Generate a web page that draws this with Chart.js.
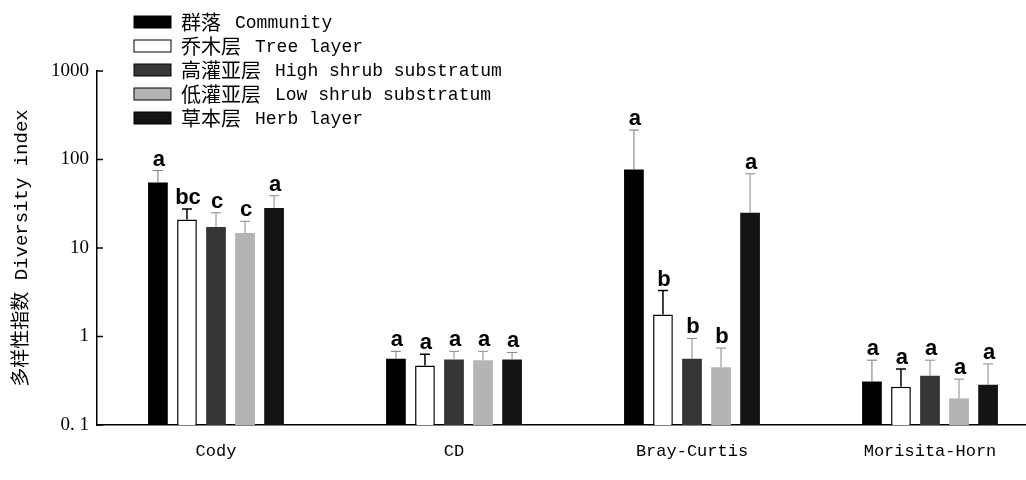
<!DOCTYPE html>
<html>
<head>
<meta charset="utf-8">
<script src="https://cdn.jsdelivr.net/npm/chart.js@4"></script>
<style>
  html, body { margin: 0; padding: 0; background: #fff; }
  #wrap { width: 1026px; height: 480px; position: relative; }
</style>
</head>
<body>
<div id="wrap"><canvas id="diversityChart"></canvas></div>
<script>
// ===============================
// Data
// ===============================
const categories = ['Cody', 'CD', 'Bray-Curtis', 'Morisita-Horn'];
const yTickValues = [0.1, 1, 10, 100, 1000];

const seriesNames = [
  '群落 Community',
  '乔木层 Tree layer',
  '高灌亚层 High shrub substratum',
  '低灌亚层 Low shrub substratum',
  '草本层 Herb layer'
];

const community = [55, 0.56, 77, 0.31];
const treeLayer = [21, 0.47, 1.77, 0.27];
const highShrub = [17.3, 0.55, 0.56, 0.36];
const lowShrub = [14.8, 0.54, 0.45, 0.2];
const herbLayer = [28.4, 0.55, 25, 0.285];

// upper end of error bars
const communityErr = [75, 0.68, 215, 0.54];
const treeLayerErr = [27.5, 0.63, 3.3, 0.43];
const highShrubErr = [25, 0.68, 0.95, 0.54];
const lowShrubErr = [20, 0.68, 0.74, 0.33];
const herbLayerErr = [39, 0.66, 69, 0.49];

// significance letters
const communityLetters = ['a', 'a', 'a', 'a'];
const treeLayerLetters = ['bc', 'a', 'b', 'a'];
const highShrubLetters = ['c', 'a', 'b', 'a'];
const lowShrubLetters = ['c', 'a', 'b', 'a'];
const herbLayerLetters = ['a', 'a', 'a', 'a'];

const fills = ['#000000', '#ffffff', '#363636', '#b4b4b4', '#141414'];
const errColors = ['#777', '#000', '#888', '#888', '#888'];

const values = [community, treeLayer, highShrub, lowShrub, herbLayer];
const errs = [communityErr, treeLayerErr, highShrubErr, lowShrubErr, herbLayerErr];
const letters = [communityLetters, treeLayerLetters, highShrubLetters, lowShrubLetters, herbLayerLetters];

const monoFont = '"Liberation Mono", "Noto Sans CJK SC", monospace';
const cjkFont = '"Noto Sans CJK SC", sans-serif';

// ===============================
// Plugin: wider x axis (the original is cropped on the right)
// ===============================
const widenPlugin = {
  id: 'widen',
  afterLayout(chart) {
    const x = chart.scales.x;
    x.right = x.left + 4 * 238;
    x.width = x.right - x.left;
    x.configure();
    chart.chartArea.right = x.right;
    chart.chartArea.width = x.width;
  }
};

// ===============================
// Plugin: error bars, letters, inward ticks, legend
// ===============================
const extrasPlugin = {
  id: 'extras',
  afterDatasetsDraw(chart) {
    const ctx = chart.ctx;
    const y = chart.scales.y;
    ctx.save();
    values.forEach((vals, i) => {
      const meta = chart.getDatasetMeta(i);
      meta.data.forEach((bar, j) => {
        const yTop = y.getPixelForValue(errs[i][j]);
        ctx.strokeStyle = errColors[i];
        ctx.lineWidth = i === 1 ? 1.5 : 1;
        ctx.beginPath();
        ctx.moveTo(bar.x, bar.y);
        ctx.lineTo(bar.x, yTop);
        ctx.moveTo(bar.x - 5, yTop);
        ctx.lineTo(bar.x + 5, yTop);
        ctx.stroke();

        ctx.fillStyle = '#000';
        ctx.font = 'bold 22px "Liberation Sans", Arial, sans-serif';
        ctx.textAlign = 'center';
        ctx.textBaseline = 'alphabetic';
        ctx.fillText(letters[i][j], bar.x + 1, yTop - 5);
      });
    });

    // inward tick marks on y axis
    const left = chart.chartArea.left;
    ctx.strokeStyle = '#000';
    ctx.lineWidth = 1.5;
    yTickValues.forEach(v => {
      const py = y.getPixelForValue(v);
      ctx.beginPath();
      ctx.moveTo(left, py);
      ctx.lineTo(left + 6, py);
      ctx.stroke();
    });

    // legend
    ctx.textAlign = 'left';
    ctx.textBaseline = 'middle';
    seriesNames.forEach((name, i) => {
      const cy = 22 + i * 24;
      ctx.fillStyle = fills[i];
      ctx.fillRect(134, cy - 6, 37, 12);
      ctx.strokeStyle = '#000';
      ctx.lineWidth = 1;
      ctx.strokeRect(134, cy - 6, 37, 12);

      const cut = name.indexOf(' ');
      const zh = name.slice(0, cut);
      const en = name.slice(cut + 1);
      ctx.fillStyle = '#000';
      ctx.font = '20px ' + cjkFont;
      ctx.fillText(zh, 181, cy);
      const w = ctx.measureText(zh).width;
      ctx.font = '18px ' + monoFont;
      ctx.fillText(en, 181 + w + 14, cy + 1);
    });
    ctx.restore();
  }
};

// ===============================
// Chart: Diversity index
// ===============================
new Chart(document.getElementById('diversityChart'), {
  type: 'bar',
  data: {
    labels: categories,
    datasets: values.map((vals, i) => ({
      label: seriesNames[i],
      data: vals,
      backgroundColor: fills[i],
      borderColor: '#000',
      borderWidth: i === 1 ? 1.5 : 0,
      categoryPercentage: 0.61,
      barPercentage: 0.68
    }))
  },
  options: {
    responsive: true,
    maintainAspectRatio: false,
    animation: false,
    layout: { padding: { top: 71, right: 0, left: 0, bottom: 0 } },
    plugins: {
      legend: { display: false },
      tooltip: { enabled: false }
    },
    scales: {
      x: {
        grid: { display: false, drawTicks: false },
        border: { display: true, color: '#000', width: 1.5 },
        ticks: {
          color: '#000',
          padding: 16,
          font: { family: monoFont, size: 17 }
        },
        afterFit(scale) { scale.height = 55; }
      },
      y: {
        type: 'logarithmic',
        min: 0.1,
        max: 1000,
        grid: { display: false, drawTicks: false },
        border: { display: true, color: '#000', width: 1.5 },
        afterBuildTicks(scale) {
          scale.ticks = yTickValues.map(v => ({ value: v }));
        },
        ticks: {
          color: '#000',
          padding: 8,
          font: { family: '"Liberation Serif", serif', size: 19 },
          callback: v => (v === 0.1 ? '0. 1' : String(v))
        },
        title: {
          display: true,
          text: '多样性指数 Diversity index',
          color: '#000',
          padding: { top: 11, bottom: 4 },
          font: { family: monoFont, size: 19 }
        },
        afterFit(scale) { scale.width = 97; }
      }
    }
  },
  plugins: [widenPlugin, extrasPlugin]
});
</script>
</body>
</html>
